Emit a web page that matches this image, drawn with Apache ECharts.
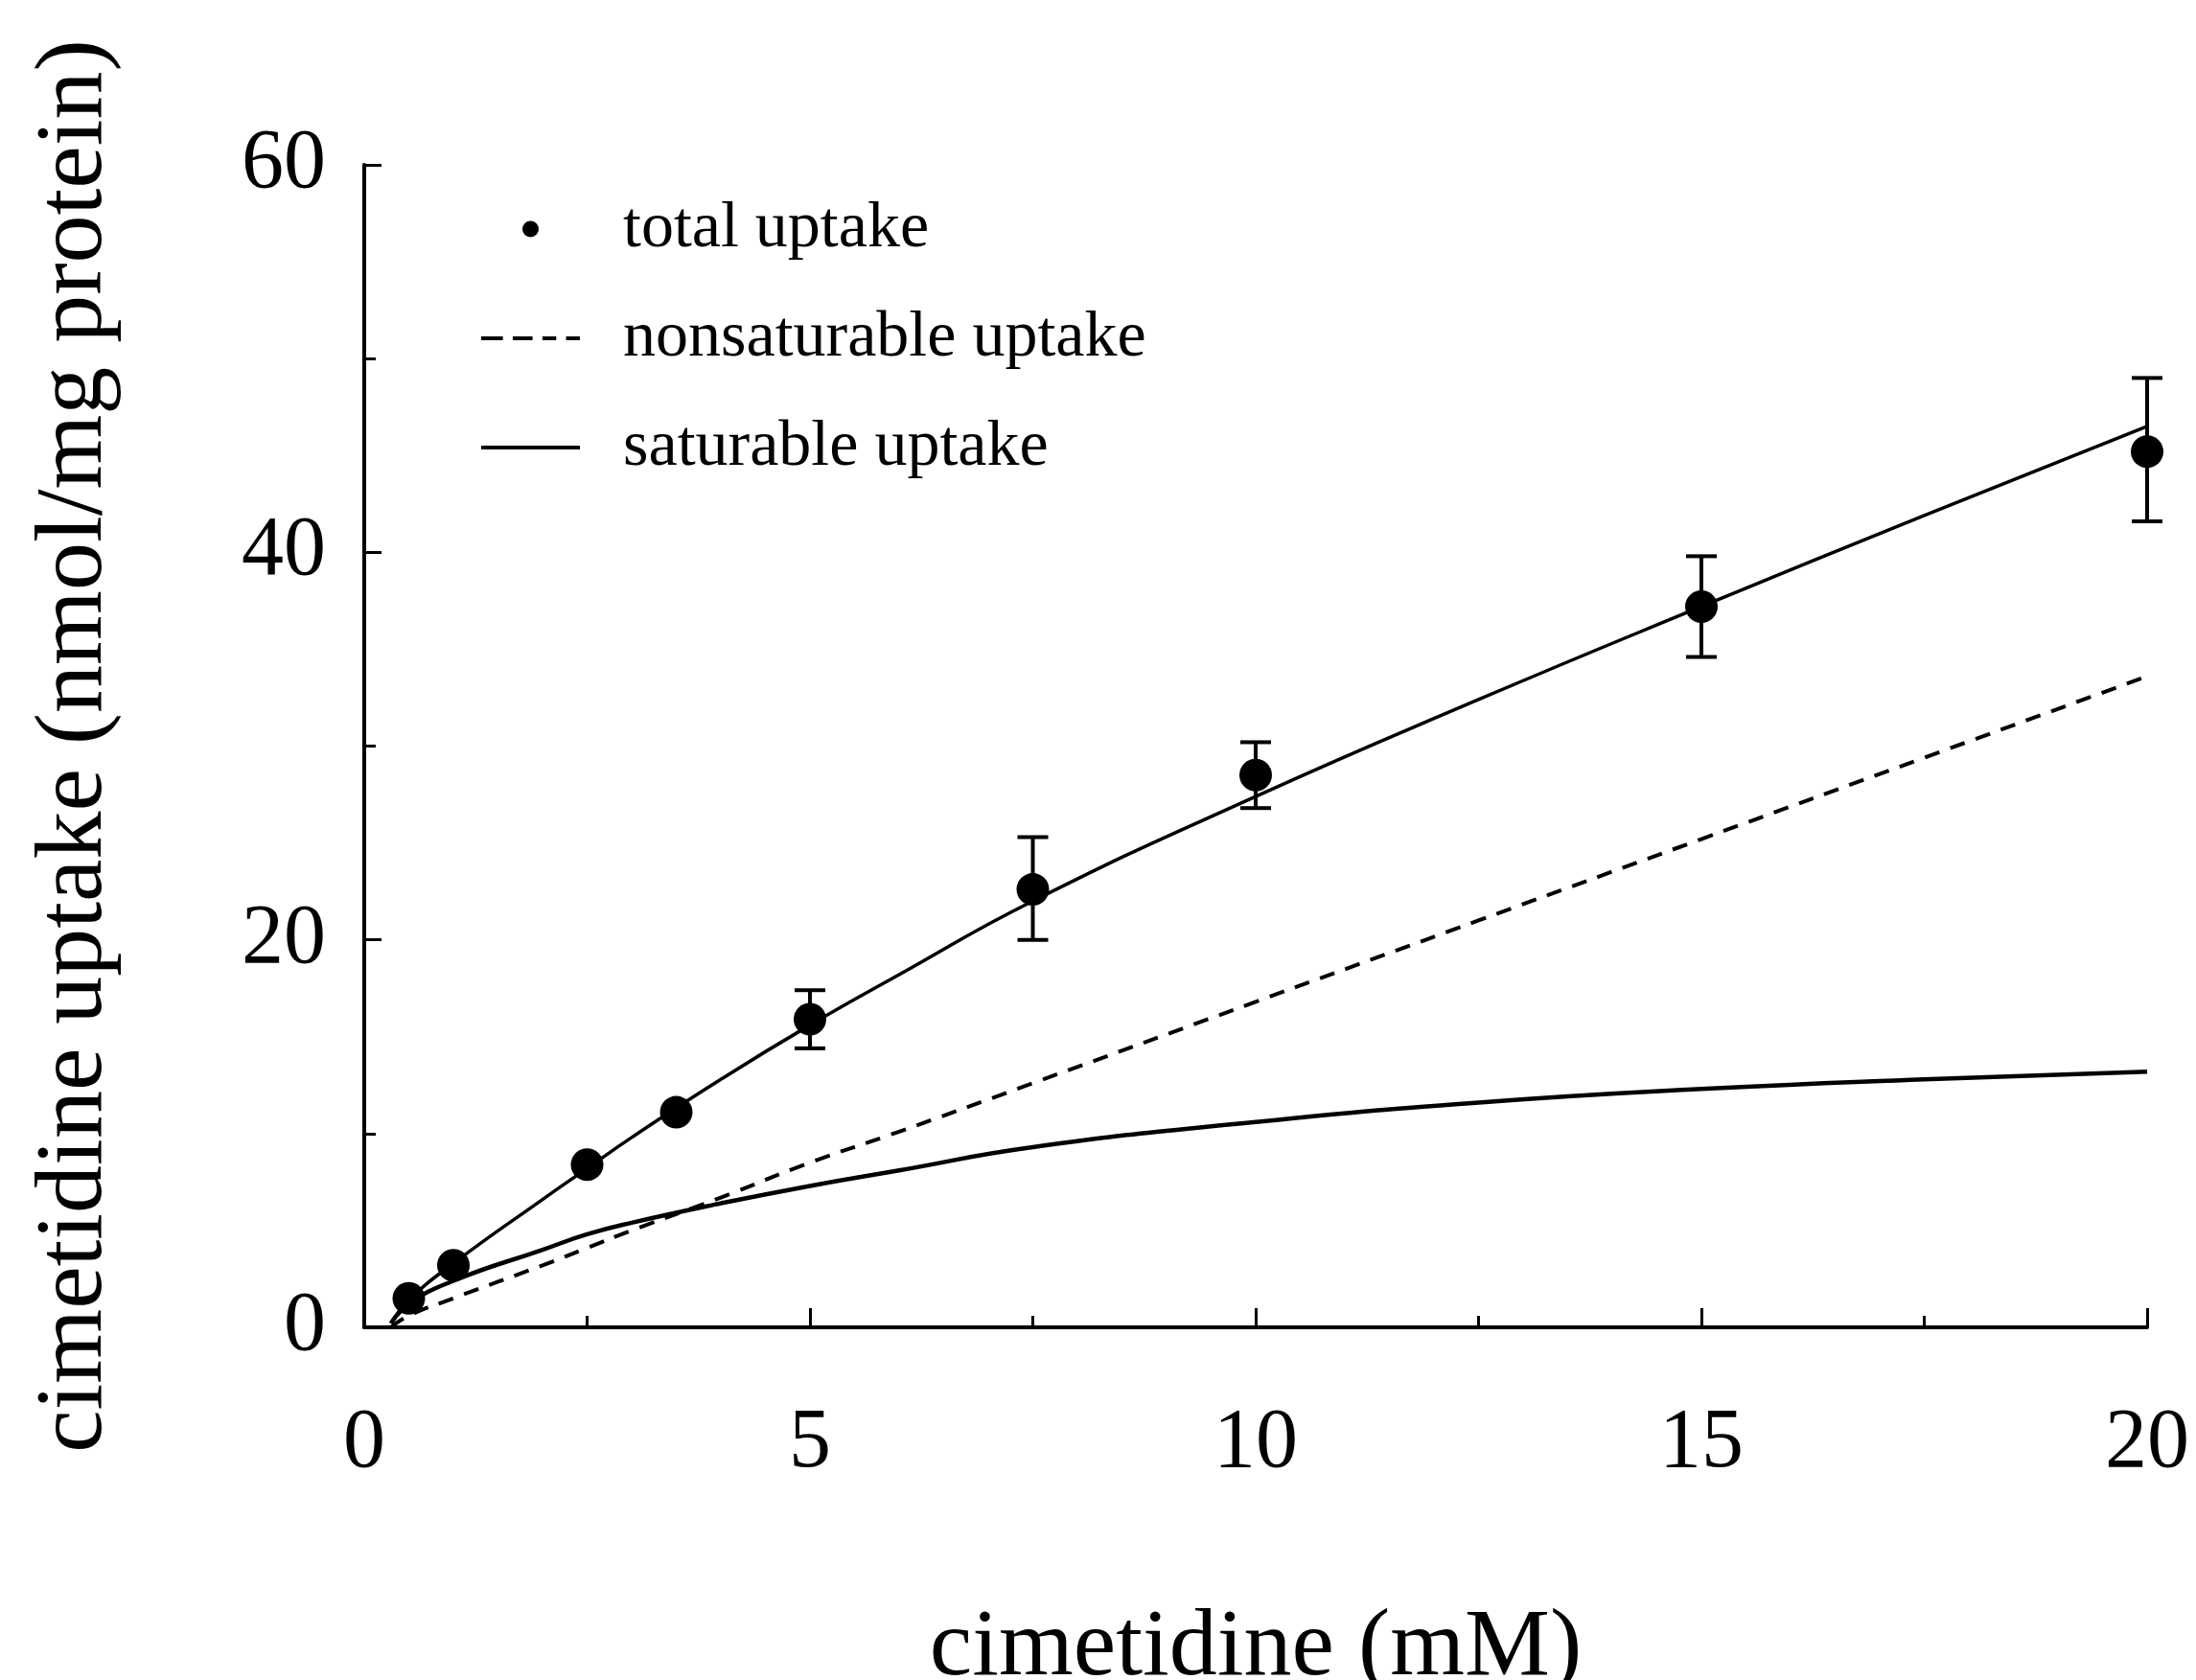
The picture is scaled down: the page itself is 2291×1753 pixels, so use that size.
<!DOCTYPE html>
<html>
<head>
<meta charset="utf-8">
<script src="https://cdn.jsdelivr.net/npm/echarts@6/dist/echarts.min.js"></script>
<style>
  html, body { margin: 0; padding: 0; background: #fff; }
  #chart { width: 2291px; height: 1753px; }
</style>
</head>
<body>
<div id="chart"></div>
<script>
// --- measured points (total uptake) ---
const pointX   = [0.5, 1, 2.5, 3.5, 5, 7.5, 10, 15, 20]
const pointY   = [1.5, 3.2, 8.4, 11.1, 15.9, 22.6, 28.5, 37.2, 45.2]
const errLow   = [null, null, null, null, 14.4, 20.0, 26.8, 34.6, 41.6]
const errHigh  = [null, null, null, null, 17.4, 25.3, 30.2, 39.8, 49.0]

// --- fitted curves ---
const curveX      = [0.3, 0.5, 1, 2, 2.5, 3, 4, 5, 6, 7.5, 10, 12.5, 15, 17.5, 20]
const totalFit    = [0.2, 1.4, 3.3, 6.6, 8.2, 9.8, 12.8, 15.6, 18.2, 22.0, 27.4, 32.4, 37.2, 41.9, 46.5]
const nonsatFit   = [0.0, 0.6, 1.5, 3.2, 4.1, 5.0, 6.7, 8.5, 10.1, 12.6, 16.8, 21.0, 25.2, 29.4, 33.6]
const satFit      = [0.2, 1.2, 2.4, 4.0, 4.8, 5.4, 6.4, 7.3, 8.1, 9.3, 10.6, 11.6, 12.3, 12.8, 13.2]

const xTicks = [0, 5, 10, 15, 20]
const yTicks = [0, 20, 40, 60]

const FONT = '"Liberation Serif", "DejaVu Serif", serif'

// legend samples: thin solid bar / dashed bar
const ICON_SOLID  = 'path://M0,0h100v4h-100z'
const ICON_DASHED = 'path://M0,0h22v4h-22z M32,0h20v4h-20z M62,0h14v4h-14z M86,0h14v4h-14z'

const zip = (xs, ys) => xs.map((x, i) => [x, ys[i]])
const bars = pointX
    .map((x, i) => [x, errLow[i], errHigh[i]])
    .filter(d => d[1] != null)

const chart = echarts.init(document.getElementById('chart'))
chart.setOption({
  animation: false,
  backgroundColor: '#fff',
  grid: { left: 380, right: 51, top: 172, bottom: 368, outerBoundsMode: 'none' },
  legend: {
    orient: 'vertical',
    left: 497,
    top: 200,
    itemWidth: 103,
    itemHeight: 17,
    itemGap: 46,
    textStyle: { fontFamily: FONT, fontSize: 68, color: '#000', padding: [0, 0, 0, 40] },
    data: [
      { name: 'total uptake', icon: 'circle' },
      { name: 'nonsaturable uptake', icon: ICON_DASHED },
      { name: 'saturable uptake', icon: ICON_SOLID }
    ]
  },
  xAxis: {
    type: 'value',
    min: 0, max: 20, interval: 5,
    name: 'cimetidine (mM)',
    nameLocation: 'middle',
    nameGap: 286,
    nameTextStyle: { fontFamily: FONT, fontSize: 100, color: '#000' },
    axisLine: { onZero: false, lineStyle: { color: '#000', width: 4 } },
    axisTick: { inside: true, length: 20, lineStyle: { color: '#000', width: 3 } },
    minorTick: { show: true, splitNumber: 2, length: 12, lineStyle: { color: '#000', width: 3 } },
    axisLabel: {
      margin: 78, fontFamily: FONT, fontSize: 88, color: '#000',
      formatter: v => xTicks.includes(v) ? String(v) : ''
    },
    splitLine: { show: false }
  },
  yAxis: {
    type: 'value',
    min: 0, max: 60, interval: 20,
    name: 'cimetidine uptake (nmol/mg protein)',
    nameLocation: 'middle',
    nameGap: 251,
    nameTextStyle: { fontFamily: FONT, fontSize: 100, color: '#000' },
    axisLine: { show: true, onZero: false, lineStyle: { color: '#000', width: 4 } },
    axisTick: { show: true, inside: true, length: 18, lineStyle: { color: '#000', width: 3 } },
    minorTick: { show: true, splitNumber: 2, length: 12, lineStyle: { color: '#000', width: 3 } },
    axisLabel: {
      margin: 40, fontFamily: FONT, fontSize: 88, color: '#000',
      formatter: v => yTicks.includes(v) ? String(v) : ''
    },
    splitLine: { show: false }
  },
  series: [
    {
      name: 'total uptake',
      type: 'scatter',
      data: zip(pointX, pointY),
      symbol: 'circle',
      symbolSize: 34,
      itemStyle: { color: '#000', opacity: 1 },
      z: 5
    },
    {
      name: 'nonsaturable uptake',
      type: 'line',
      data: zip(curveX, nonsatFit),
      smooth: true,
      symbol: 'none',
      lineStyle: { color: '#000', width: 4, type: [16, 12] },
      itemStyle: { color: '#000' }
    },
    {
      name: 'saturable uptake',
      type: 'line',
      data: zip(curveX, satFit),
      smooth: true,
      symbol: 'none',
      lineStyle: { color: '#000', width: 4.5 },
      itemStyle: { color: '#000' }
    },
    {
      name: 'total fit',
      type: 'line',
      data: zip(curveX, totalFit),
      smooth: true,
      symbol: 'none',
      lineStyle: { color: '#000', width: 3.5 },
      itemStyle: { color: '#000' }
    },
    {
      // error bars
      name: 'err',
      type: 'custom',
      data: bars,
      z: 4,
      renderItem: (params, api) => {
        const lo = api.coord([api.value(0), api.value(1)])
        const hi = api.coord([api.value(0), api.value(2)])
        const cap = 16
        const st = { stroke: '#000', lineWidth: 4 }
        return {
          type: 'group',
          children: [
            { type: 'line', shape: { x1: lo[0], y1: lo[1], x2: hi[0], y2: hi[1] }, style: st },
            { type: 'line', shape: { x1: lo[0] - cap, y1: lo[1], x2: lo[0] + cap, y2: lo[1] }, style: st },
            { type: 'line', shape: { x1: hi[0] - cap, y1: hi[1], x2: hi[0] + cap, y2: hi[1] }, style: st }
          ]
        }
      }
    }
  ]
})
</script>
</body>
</html>
